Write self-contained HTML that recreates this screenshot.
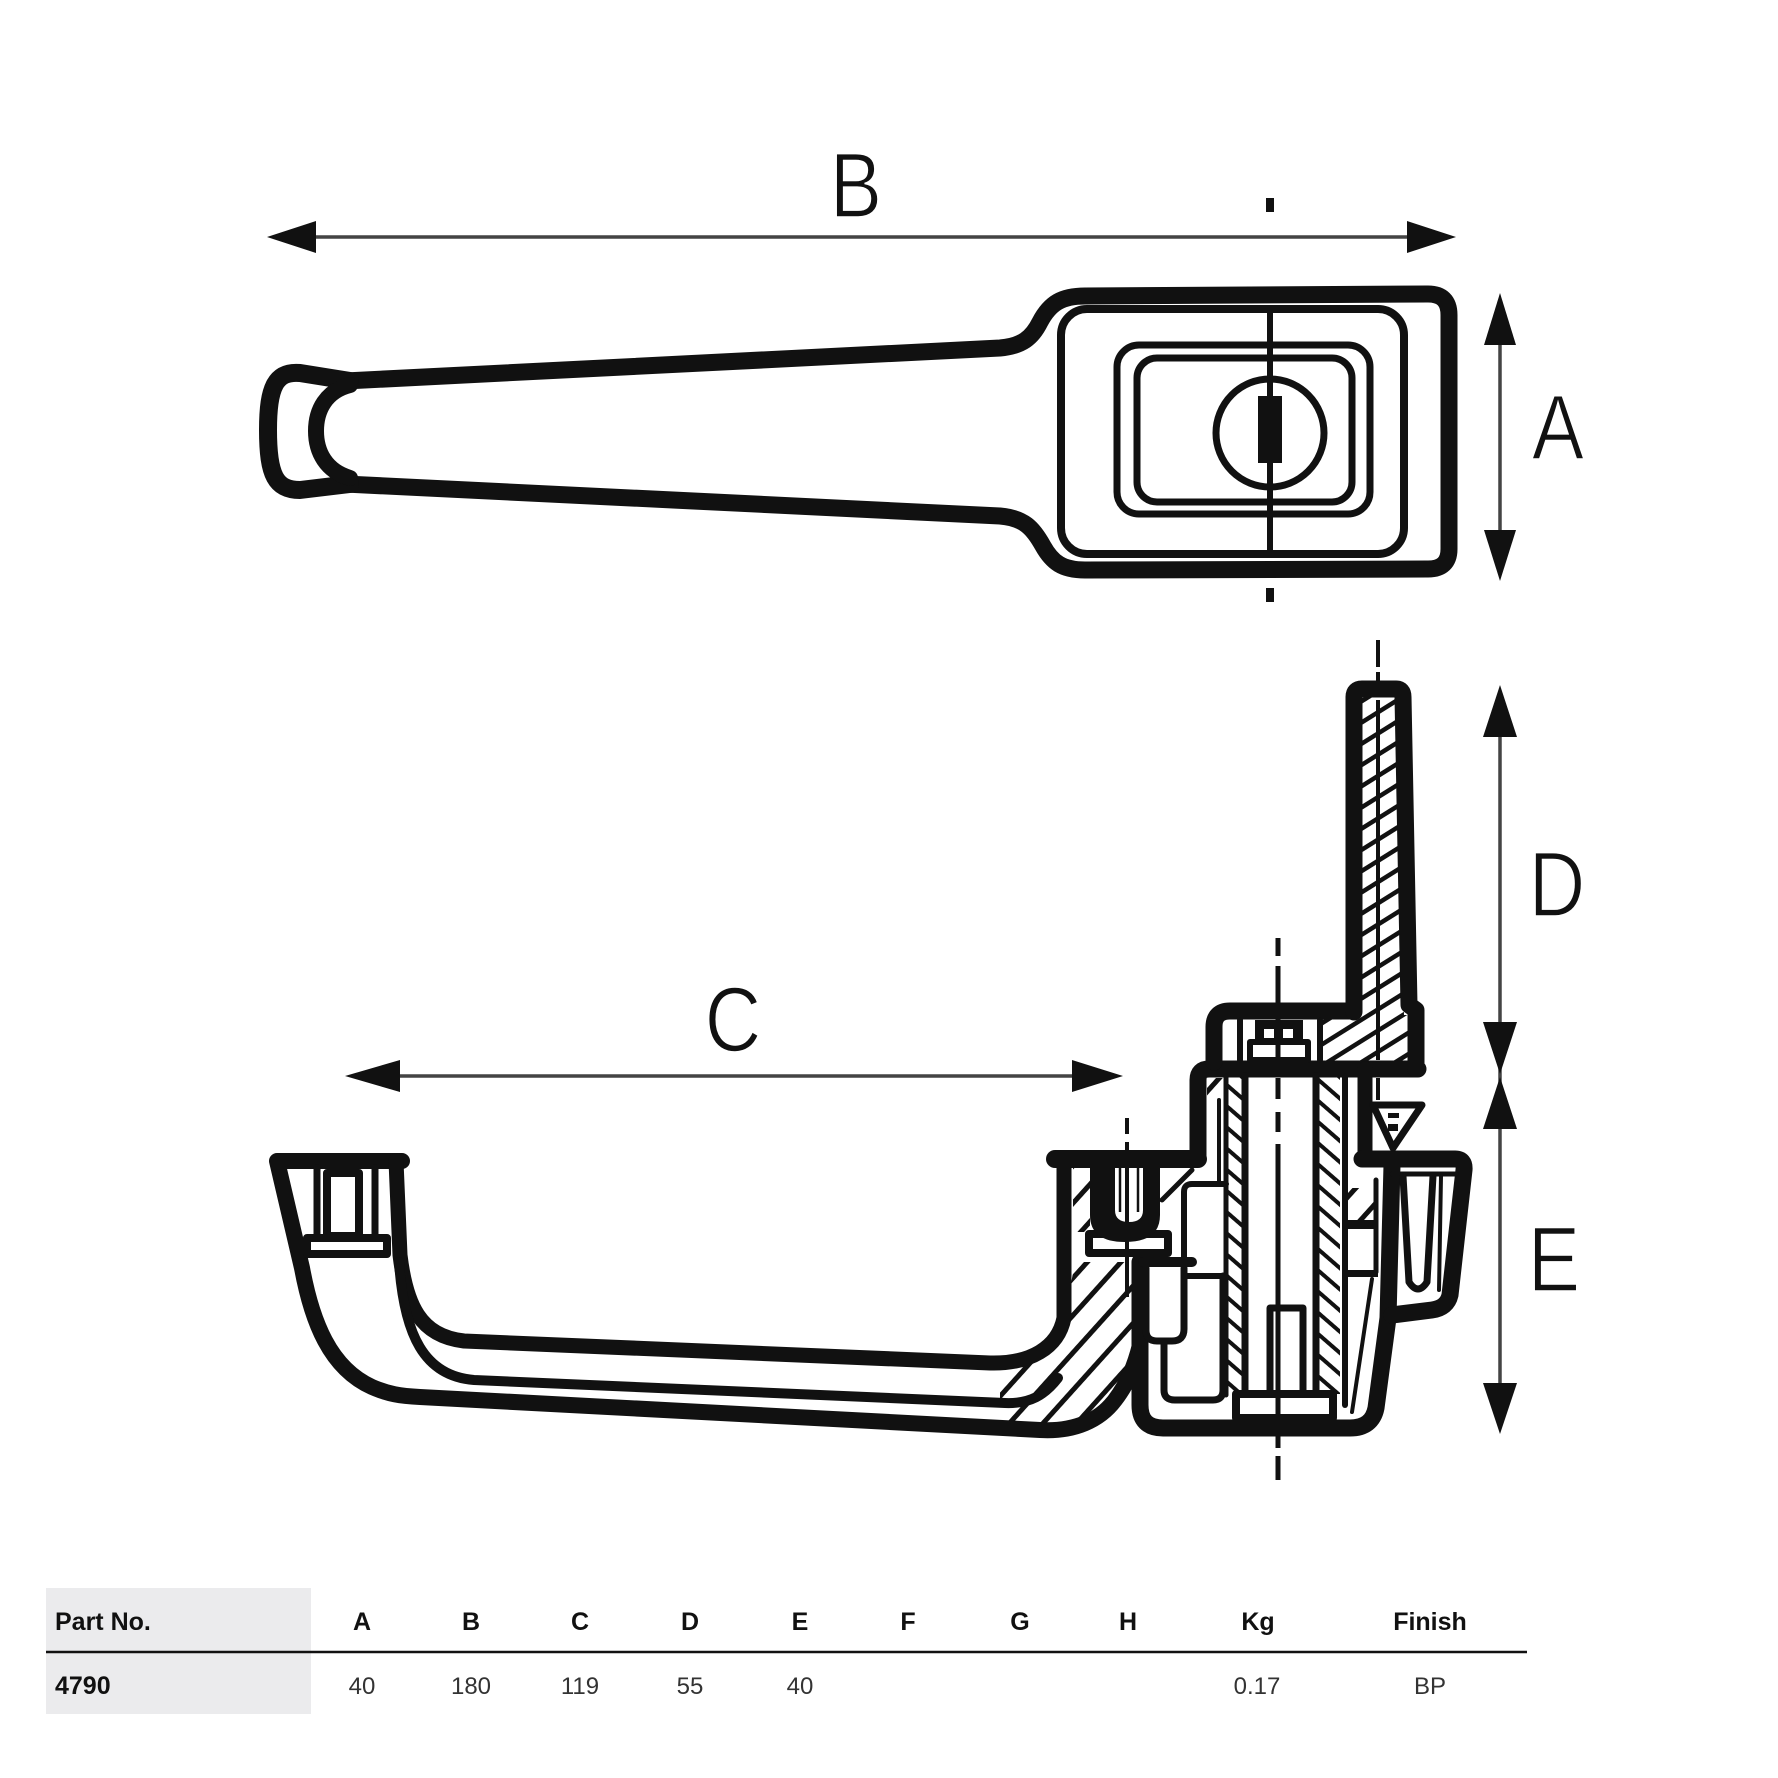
<!DOCTYPE html>
<html><head><meta charset="utf-8">
<style>
html,body{margin:0;padding:0;background:#fff;}
svg{display:block;}
</style></head>
<body>
<svg width="1778" height="1778" viewBox="0 0 1778 1778" xmlns="http://www.w3.org/2000/svg">
<defs>
<pattern id="hl" width="18" height="18" patternUnits="userSpaceOnUse" patternTransform="rotate(58)">
 <rect width="18" height="18" fill="#fff"/><rect x="0" y="0" width="4.5" height="18" fill="#111"/>
</pattern>
<pattern id="hs" width="16" height="16" patternUnits="userSpaceOnUse" patternTransform="rotate(-49)">
 <rect width="16" height="16" fill="#fff"/><rect x="0" y="0" width="4" height="16" fill="#111"/>
</pattern>
<pattern id="hh" width="25" height="25" patternUnits="userSpaceOnUse" patternTransform="rotate(42)">
 <rect width="25" height="25" fill="#fff"/><rect x="0" y="0" width="5" height="25" fill="#111"/>
</pattern>
</defs>
<rect width="1778" height="1778" fill="#fff"/>

<!-- ================= TOP VIEW ================= -->
<g fill="none" stroke="#111" stroke-linejoin="round" stroke-linecap="round">
<path stroke-width="17" d="M 345,381 L 1000,348 C 1022,346 1032,338 1040,322 C 1050,303 1062,296 1085,296 L 1428,294 Q 1449,294 1449,315 L 1449,549 Q 1449,569 1428,569 L 1085,570 C 1062,570 1052,562 1043,546 C 1033,528 1024,518 1000,516 L 345,484"/>
<path stroke-width="18" d="M 350,381 L 300,373 C 276,371 268,386 268,430 C 268,476 276,490 300,490 L 350,484"/>
<path stroke-width="16" d="M 350,385 C 326,391 316,410 316,431 C 316,452 326,471 350,478"/>
<rect x="1061" y="309" width="343" height="245" rx="26" stroke-width="8"/>
<rect x="1117" y="345" width="253" height="169" rx="22" stroke-width="7"/>
<rect x="1137" y="358" width="215" height="144" rx="20" stroke-width="7"/>
<circle cx="1270" cy="433" r="54" stroke-width="7"/>
</g>
<line x1="1270" y1="305" x2="1270" y2="557" stroke="#111" stroke-width="6"/>
<rect x="1258" y="396" width="24" height="67" fill="#111"/>
<rect x="1266" y="198" width="8" height="14" fill="#111"/>
<rect x="1266" y="588" width="8" height="14" fill="#111"/>

<!-- ================= DIMENSIONS ================= -->
<g stroke="#444" stroke-width="3.5">
<line x1="300" y1="237" x2="1420" y2="237"/>
<line x1="1500" y1="320" x2="1500" y2="555"/>
<line x1="1500" y1="710" x2="1500" y2="1410"/>
<line x1="380" y1="1076" x2="1090" y2="1076"/>
</g>
<g fill="#111">
<polygon points="267,237 316,221 316,253"/>
<polygon points="1456,237 1407,221 1407,253"/>
<polygon points="1500,293 1484,345 1516,345"/>
<polygon points="1500,581 1484,530 1516,530"/>
<polygon points="1500,685 1483,737 1517,737"/>
<polygon points="1500,1074 1483,1022 1517,1022"/>
<polygon points="1500,1077 1483,1129 1517,1129"/>
<polygon points="1500,1434 1483,1383 1517,1383"/>
<polygon points="345,1076 400,1060 400,1092"/>
<polygon points="1123,1076 1072,1060 1072,1092"/>
</g>
<g font-family="'Liberation Sans', sans-serif" font-size="92" fill="#111" stroke="#fff" stroke-width="1.6" text-anchor="middle">
<text transform="translate(856,217) scale(0.85,1)">B</text>
<text transform="translate(1558,459) scale(0.85,1)">A</text>
<text transform="translate(733,1051) scale(0.85,1)">C</text>
<text transform="translate(1557,916) scale(0.85,1)">D</text>
<text transform="translate(1554,1291) scale(0.85,1)">E</text>
</g>

<!-- ================= SIDE VIEW : hatching ================= -->
<polygon fill="url(#hl)" points="1360,697 1398,697 1404,1015 1410,1015 1410,1062 1322,1062 1322,1018 1360,1018"/>
<rect fill="url(#hs)" x="1228" y="1076" width="16" height="318"/>
<rect fill="url(#hs)" x="1318" y="1076" width="22" height="318"/>
<polygon fill="url(#hh)" points="1000,1372 1035,1362 1058,1340 1068,1300 1075,1262 1143,1262 1143,1345 1135,1372 1115,1405 1090,1424 1055,1432 1000,1430"/>
<polygon fill="url(#hh)" points="1073,1168 1090,1168 1090,1232 1073,1232"/>
<polygon fill="url(#hh)" points="1207,1078 1224,1078 1224,1100 1207,1100"/>
<polygon fill="url(#hh)" points="1346,1188 1378,1188 1378,1220 1346,1220"/>

<g fill="none" stroke="#111" stroke-linejoin="round" stroke-linecap="round">
<!-- handle -->
<path stroke-width="16" d="M 402,1161 L 277,1161 L 302,1268 C 312,1322 330,1368 372,1387 C 388,1394 400,1396 420,1397 L 1040,1430 C 1075,1432 1100,1420 1115,1400 C 1128,1383 1135,1365 1140,1345"/>
<path stroke-width="15" d="M 396,1161 L 400,1255 C 406,1305 420,1336 464,1341 L 990,1363 C 1030,1364 1058,1348 1064,1318 L 1064,1159"/>
<path stroke-width="10" d="M 399,1262 C 404,1335 424,1376 474,1380 L 1005,1403 C 1030,1404 1045,1395 1058,1378"/>
<!-- left post internals -->
<rect x="327" y="1173" width="32" height="63" stroke-width="8"/>
<line x1="317" y1="1168" x2="317" y2="1238" stroke-width="7"/>
<line x1="375" y1="1168" x2="375" y2="1238" stroke-width="7"/>
<rect x="307" y="1238" width="80" height="16" stroke-width="8"/>

<!-- right post top / body column / cap -->
<path stroke-width="18" d="M 1055,1159 L 1198,1159"/>
<path stroke-width="17" d="M 1198,1159 L 1198,1080 Q 1198,1069 1209,1069 L 1418,1069"/>
<path stroke-width="17" d="M 1350,1011 L 1230,1011 Q 1214,1011 1214,1027 L 1214,1062"/>
<!-- lever -->
<path stroke-width="17" d="M 1354,1012 L 1354,697 Q 1354,689 1362,689 L 1396,689 Q 1403,689 1403,697 L 1409,1005 L 1416,1010 L 1416,1069"/>
<!-- cap internals -->
<line x1="1240" y1="1020" x2="1240" y2="1060" stroke-width="6"/>
<line x1="1320" y1="1020" x2="1320" y2="1060" stroke-width="6"/>
<rect x="1250" y="1042" width="58" height="18" stroke-width="6"/>
<!-- body column internals -->
<line x1="1219" y1="1100" x2="1219" y2="1182" stroke-width="4"/>
<!-- shaft -->
<line x1="1226" y1="1076" x2="1226" y2="1395" stroke-width="5"/>
<line x1="1245" y1="1076" x2="1245" y2="1395" stroke-width="7"/>
<line x1="1316" y1="1076" x2="1316" y2="1395" stroke-width="7"/>
<line x1="1345" y1="1076" x2="1345" y2="1405" stroke-width="6"/>
<rect x="1270" y="1308" width="33" height="86" fill="#fff" stroke-width="7"/>
<rect x="1236" y="1394" width="97" height="24" fill="#fff" stroke-width="8"/>
<!-- body outline -->
<path stroke-width="17" d="M 1140,1262 L 1140,1405 Q 1140,1428 1163,1428 L 1350,1428 Q 1372,1428 1376,1408 L 1388,1318 L 1392,1165"/>
<path stroke-width="15" d="M 1365,1069 L 1365,1159"/>
<path stroke-width="17" d="M 1362,1159 L 1455,1159 Q 1465,1159 1464,1170 L 1450,1295 Q 1447,1308 1432,1310 L 1392,1315"/>
<line x1="1392" y1="1174" x2="1456" y2="1174" stroke-width="5"/>
<path stroke-width="7" d="M 1403,1176 L 1409,1282 Q 1418,1296 1427,1282 L 1433,1176"/>
<line x1="1441" y1="1176" x2="1439" y2="1290" stroke-width="4"/>
<line x1="1372" y1="1279" x2="1352" y2="1412" stroke-width="4"/>
<line x1="1376" y1="1180" x2="1376" y2="1272" stroke-width="5"/>
<polygon points="1373,1105 1422,1105 1393,1148" fill="#fff" stroke-width="7"/>
<!-- left blocks -->
<path stroke-width="7" d="M 1146,1268 L 1146,1330 Q 1146,1341 1157,1341 L 1172,1341 Q 1184,1341 1184,1329 L 1184,1268"/>
<path stroke-width="7" d="M 1164,1343 L 1164,1390 Q 1164,1400 1175,1400 L 1213,1400 Q 1223,1400 1223,1390 L 1223,1276"/>
<line x1="1184" y1="1276" x2="1226" y2="1276" stroke-width="6"/>
<path stroke-width="6" d="M 1184,1262 L 1184,1192 Q 1184,1184 1192,1184 L 1226,1184"/>
<line x1="1143" y1="1262" x2="1192" y2="1262" stroke-width="10"/>
<line x1="1162" y1="1200" x2="1192" y2="1170" stroke-width="5"/>
<!-- flange -->
<rect x="1089" y="1234" width="79" height="19" fill="#fff" stroke-width="8"/>
</g>

<!-- solid details -->
<rect x="1255" y="1020" width="48" height="22" fill="#111"/>
<rect x="1264" y="1029" width="10" height="9" fill="#fff"/>
<rect x="1283" y="1029" width="10" height="9" fill="#fff"/>
<rect x="1345" y="1220" width="33" height="9" fill="#111"/>
<rect x="1345" y="1270" width="33" height="7" fill="#111"/>
<rect x="1388" y="1113" width="11" height="5" fill="#111"/>
<rect x="1388" y="1124" width="10" height="7" fill="#111"/>
<!-- socket U -->
<path fill="#111" d="M 1090,1163 L 1090,1215 Q 1090,1242 1125,1242 Q 1160,1242 1160,1215 L 1160,1163 Z"/>
<path fill="#fff" d="M 1115,1168 L 1143,1168 L 1143,1210 Q 1143,1222 1129,1222 Q 1115,1222 1115,1210 Z"/>
<line x1="1120" y1="1168" x2="1120" y2="1212" stroke="#111" stroke-width="2.5"/>
<line x1="1138" y1="1168" x2="1138" y2="1212" stroke="#111" stroke-width="2.5"/>

<!-- centerlines -->
<g stroke="#111" stroke-width="5">
<line x1="1278" y1="938" x2="1278" y2="956"/>
<line x1="1278" y1="966" x2="1278" y2="1003"/>
<line x1="1278" y1="1018" x2="1278" y2="1060"/>
<line x1="1278" y1="1078" x2="1278" y2="1099"/>
<line x1="1278" y1="1112" x2="1278" y2="1132"/>
<line x1="1278" y1="1144" x2="1278" y2="1448"/>
<line x1="1278" y1="1456" x2="1278" y2="1480"/>
</g>
<g stroke="#111" stroke-width="4">
<line x1="1127" y1="1118" x2="1127" y2="1134"/>
<line x1="1127" y1="1142" x2="1127" y2="1297"/>
<line x1="1378" y1="640" x2="1378" y2="667"/>
<line x1="1378" y1="672" x2="1378" y2="683"/>
<line x1="1378" y1="700" x2="1378" y2="1060"/>
<line x1="1378" y1="1078" x2="1378" y2="1100"/>
</g>

<!-- ================= TABLE ================= -->
<rect x="46" y="1588" width="265" height="126" fill="#ebebed"/>
<line x1="46" y1="1652" x2="1527" y2="1652" stroke="#111" stroke-width="2.5"/>
<g font-family="'Liberation Sans', sans-serif" font-size="25" font-weight="bold" fill="#111">
<text x="55" y="1630">Part No.</text>
<text x="55" y="1694">4790</text>
</g>
<g font-family="'Liberation Sans', sans-serif" font-size="25" font-weight="bold" fill="#111" text-anchor="middle">
<text x="362" y="1630">A</text>
<text x="471" y="1630">B</text>
<text x="580" y="1630">C</text>
<text x="690" y="1630">D</text>
<text x="800" y="1630">E</text>
<text x="908" y="1630">F</text>
<text x="1020" y="1630">G</text>
<text x="1128" y="1630">H</text>
<text x="1258" y="1630">Kg</text>
<text x="1430" y="1630">Finish</text>
</g>
<g font-family="'Liberation Sans', sans-serif" font-size="24" fill="#333" text-anchor="middle">
<text x="362" y="1694">40</text>
<text x="471" y="1694">180</text>
<text x="580" y="1694">119</text>
<text x="690" y="1694">55</text>
<text x="800" y="1694">40</text>
<text x="1257" y="1694">0.17</text>
<text x="1430" y="1694">BP</text>
</g>
</svg>
</body></html>
